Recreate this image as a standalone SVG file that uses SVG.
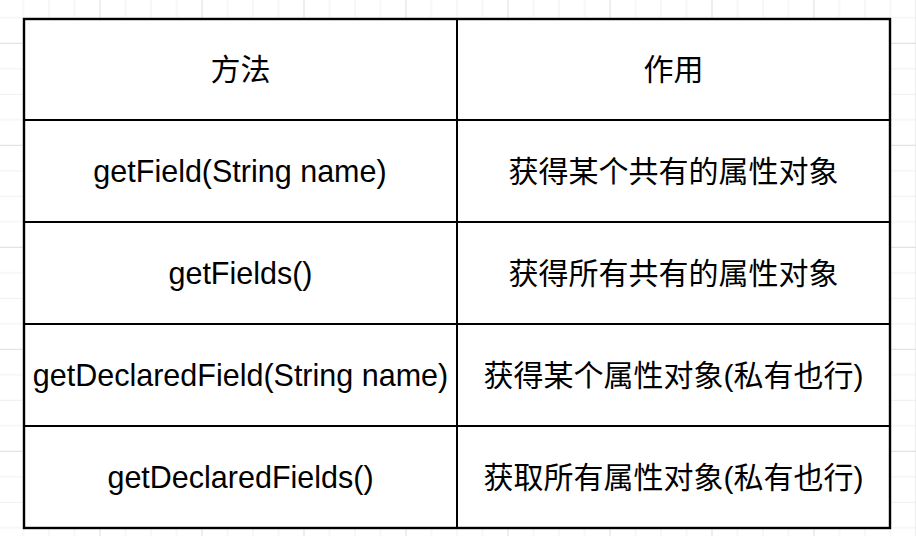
<svg xmlns="http://www.w3.org/2000/svg" width="916" height="536" viewBox="0 0 916 536">
  <defs>
    <pattern id="bggrid" patternUnits="userSpaceOnUse" x="99.5" y="42.8" width="102" height="102">
      <rect x="0" y="0" width="102" height="102" fill="#ffffff"/>
      <rect x="0" y="0" width="102" height="1" fill="#dcdcdc"/>
      <rect x="0" y="25.5" width="102" height="1" fill="#efefef"/>
      <rect x="0" y="51" width="102" height="1" fill="#efefef"/>
      <rect x="0" y="76.5" width="102" height="1" fill="#efefef"/>
      <rect x="0" y="0" width="1" height="102" fill="#dcdcdc"/>
      <rect x="25.5" y="0" width="1" height="102" fill="#efefef"/>
      <rect x="51" y="0" width="1" height="102" fill="#efefef"/>
      <rect x="76.5" y="0" width="1" height="102" fill="#efefef"/>
    </pattern>
    <style>
      .cell text { font-family: "Liberation Sans", Arial, "Noto Sans CJK SC", sans-serif; font-size: 30px; fill: #000000; text-anchor: middle; }
      .cell text.latin { font-size: 30.5px; }
      .rule { stroke: #000000; stroke-width: 2; fill: none; }
    </style>
  </defs>

  <rect id="background" x="0" y="0" width="916" height="536" fill="url(#bggrid)"/>

  <g id="table-lines">
    <rect x="24" y="19" width="866" height="509" fill="#ffffff" stroke="#000000" stroke-width="2.4"/>
    <line class="rule" x1="457" y1="19" x2="457" y2="528"/>
    <line class="rule" x1="24" y1="120" x2="890" y2="120"/>
    <line class="rule" x1="24" y1="222" x2="890" y2="222"/>
    <line class="rule" x1="24" y1="324" x2="890" y2="324"/>
    <line class="rule" x1="24" y1="426" x2="890" y2="426"/>
  </g>

  <g id="header-method" class="cell"><text x="240.5" y="80">方法</text></g>
  <g id="header-purpose" class="cell"><text x="673.5" y="80">作用</text></g>

  <g id="row1-method" class="cell"><text class="latin" x="240" y="182">getField(String name)</text></g>
  <g id="row1-purpose" class="cell"><text x="673.5" y="182">获得某个共有的属性对象</text></g>

  <g id="row2-method" class="cell"><text class="latin" x="240.5" y="284">getFields()</text></g>
  <g id="row2-purpose" class="cell"><text x="673.5" y="284">获得所有共有的属性对象</text></g>

  <g id="row3-method" class="cell"><text class="latin" x="240.5" y="386">getDeclaredField(String name)</text></g>
  <g id="row3-purpose" class="cell"><text x="673.5" y="386">获得某个属性对象(私有也行)</text></g>

  <g id="row4-method" class="cell"><text class="latin" x="240.5" y="488">getDeclaredFields()</text></g>
  <g id="row4-purpose" class="cell"><text x="673.5" y="488">获取所有属性对象(私有也行)</text></g>
</svg>
